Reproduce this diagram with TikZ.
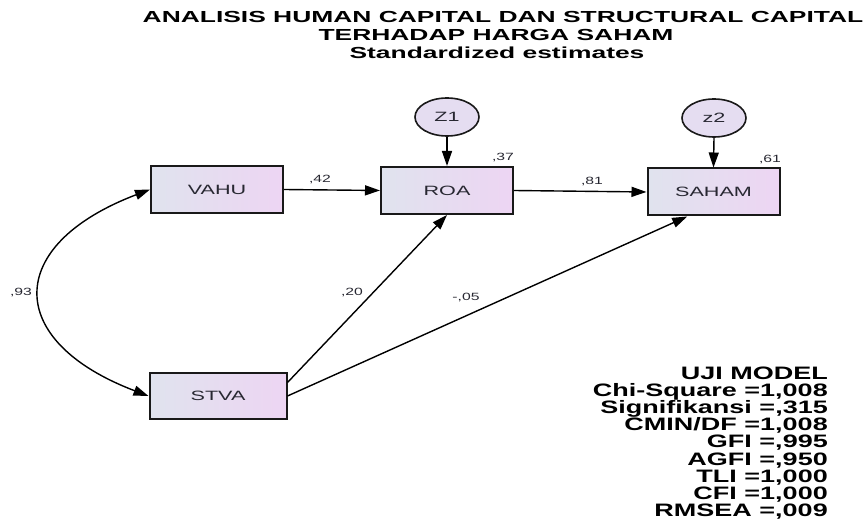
\documentclass[tikz,border=0pt]{standalone}
\usepackage{fontspec}
\setmainfont{Liberation Sans}
\newfontfamily\titlefont{Liberation Sans}[FakeStretch=1.65]
\newfontfamily\fitfont{Liberation Sans}[FakeStretch=1.5]
\newfontfamily\varfont{Liberation Sans}[FakeStretch=1.6]
\newfontfamily\estfont{Liberation Sans}[FakeStretch=1.5]
\usetikzlibrary{arrows.meta,shapes.geometric}

\definecolor{boxL}{RGB}{224,227,238}
\definecolor{boxR}{RGB}{237,213,243}
\definecolor{errfill}{RGB}{229,221,241}
\definecolor{lbl}{RGB}{40,40,50}

\begin{document}
\begin{tikzpicture}[x=1pt,y=-1pt,
  var/.style={draw=black!90, line width=2pt, left color=boxL, right color=boxR,
    minimum width=132pt, minimum height=47pt, inner sep=0pt,
    font=\varfont\fontsize{13.5}{15}\selectfont, text=lbl},
  err/.style={ellipse, draw=black!90, line width=1.6pt, fill=errfill,
    minimum width=64pt, minimum height=38pt, inner sep=0pt,
    font=\varfont\fontsize{13.5}{15}\selectfont, text=lbl},
  tip/.tip={Triangle[length=15pt,width=10pt]},
  pathline/.style={line width=1.4pt, -tip},
  est/.style={font=\estfont\fontsize{10.5}{12}\selectfont, inner sep=0pt, text=lbl},
  ttl/.style={font=\titlefont\bfseries\fontsize{16}{18}\selectfont, inner sep=0pt},
  fit/.style={font=\fitfont\bfseries\fontsize{18}{18}\selectfont, inner sep=0pt, anchor=base east},
]
\useasboundingbox (0,0) rectangle (868,529);

% title
\node[ttl] (t1) at (503,17) {ANALISIS HUMAN CAPITAL DAN STRUCTURAL CAPITAL};
\node[ttl] (t2) at (496,35) {TERHADAP HARGA SAHAM};
\node[ttl] (t3) at (497,53) {Standardized estimates};

% observed variables
\node[var] (VAHU)  at (217,189.5) {VAHU};
\node[var] (ROA)   at (447,190.5) {ROA};
\node[var] (SAHAM) at (713.5,192) {SAHAM};
\node[var, minimum width=137pt, minimum height=46pt] (STVA) at (218,396) {STVA};

% error terms
\node[err] (Z1) at (447,117) {Z1};
\node[err] (Z2) at (714,118) {z2};

% regression paths
\draw[pathline] (VAHU.east) -- (ROA.west);
\draw[pathline] (ROA.east) -- (SAHAM.west);
\draw[pathline] (STVA.11) -- (ROA.south);
\draw[pathline] (STVA.east) -- (SAHAM.223);
\draw[pathline] (Z1.south) -- (ROA.north);
\draw[pathline] (Z2.south) -- (SAHAM.north);

% covariance
\draw[line width=1.4pt, tip-tip] (STVA.west) .. controls (4,341) and (4,245) .. (VAHU.west);

% estimates
\node[est] (e42) at (320,180) {,42};
\node[est] (e81) at (592,182) {,81};
\node[est] (e37) at (503,158) {,37};
\node[est] (e61) at (770,160) {,61};
\node[est] (e20) at (352,293) {,20};
\node[est] (e05) at (466,298) {-,05};
\node[est] (e93) at (21,293) {,93};

% model fit summary
\foreach \txt [count=\i from 0] in {UJI MODEL, Chi-Square =1{,}008, Signifikansi ={,}315,
    CMIN/DF =1{,}008, GFI ={,}995, AGFI ={,}950, TLI =1{,}000, CFI =1{,}000, RMSEA ={,}009}
  \node[fit] (fit\i) at (828,379.5+\i*17.1) {\txt};
\end{tikzpicture}
\end{document}
